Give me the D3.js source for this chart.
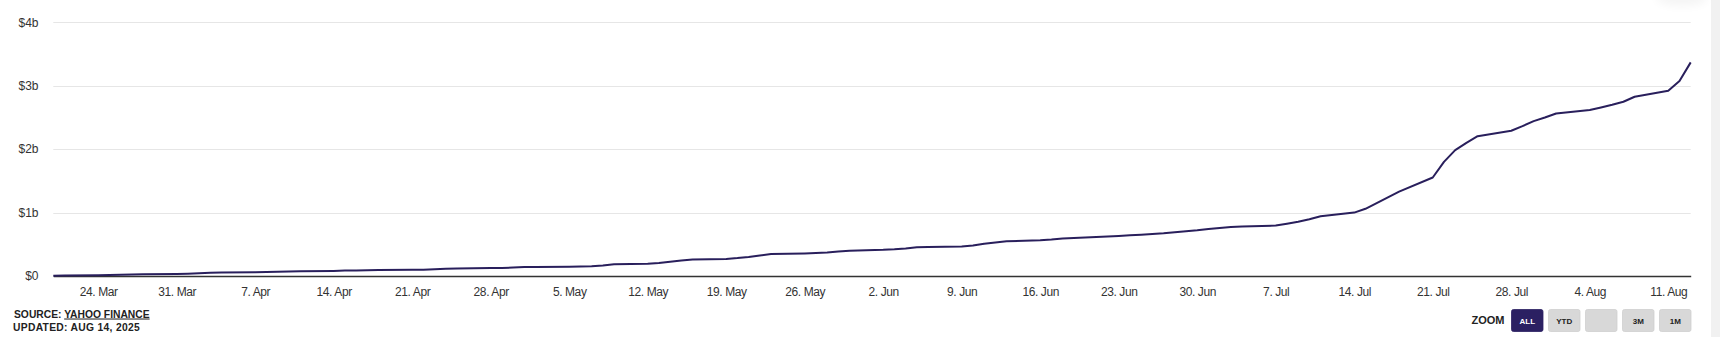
<!DOCTYPE html>
<html>
<head>
<meta charset="utf-8">
<script src="https://cdn.jsdelivr.net/npm/d3@7/dist/d3.min.js"></script>
<style>
  html, body { margin: 0; padding: 0; background: #fff; }
  svg { display: block; font-family: "Liberation Sans", Arial, sans-serif; }
</style>
</head>
<body>
<svg id="chart" width="1720" height="337"></svg>
<script>
// Trading days (weekdays) and cumulative value in billions of dollars
const dates = [
  "2025-03-20","2025-03-21","2025-03-24","2025-03-25","2025-03-26","2025-03-27","2025-03-28","2025-03-31",
  "2025-04-01","2025-04-02","2025-04-03","2025-04-04","2025-04-07","2025-04-08","2025-04-09","2025-04-10","2025-04-11",
  "2025-04-14","2025-04-15","2025-04-16","2025-04-17","2025-04-18","2025-04-21","2025-04-22","2025-04-23","2025-04-24","2025-04-25",
  "2025-04-28","2025-04-29","2025-04-30",
  "2025-05-01","2025-05-02","2025-05-05","2025-05-06","2025-05-07","2025-05-08","2025-05-09","2025-05-12","2025-05-13","2025-05-14",
  "2025-05-15","2025-05-16","2025-05-19","2025-05-20","2025-05-21","2025-05-22","2025-05-23","2025-05-26","2025-05-27","2025-05-28",
  "2025-05-29","2025-05-30",
  "2025-06-02","2025-06-03","2025-06-04","2025-06-05","2025-06-06","2025-06-09","2025-06-10","2025-06-11","2025-06-12","2025-06-13",
  "2025-06-16","2025-06-17","2025-06-18","2025-06-19","2025-06-20","2025-06-23","2025-06-24","2025-06-25","2025-06-26","2025-06-27",
  "2025-06-30",
  "2025-07-01","2025-07-02","2025-07-03","2025-07-04","2025-07-07","2025-07-08","2025-07-09","2025-07-10","2025-07-11","2025-07-14",
  "2025-07-15","2025-07-16","2025-07-17","2025-07-18","2025-07-21","2025-07-22","2025-07-23","2025-07-24","2025-07-25","2025-07-28",
  "2025-07-29","2025-07-30","2025-07-31",
  "2025-08-01","2025-08-04","2025-08-05","2025-08-06","2025-08-07","2025-08-08","2025-08-11","2025-08-12","2025-08-13"
];
const values = [
  0.005,0.007,0.012,0.016,0.020,0.024,0.027,0.032,
  0.036,0.042,0.050,0.054,0.058,0.062,0.068,0.072,0.075,
  0.080,0.085,0.088,0.092,0.094,0.097,0.100,0.108,0.115,0.120,
  0.125,0.128,0.133,
  0.140,0.142,0.145,0.148,0.152,0.165,0.185,0.195,0.205,0.225,
  0.245,0.260,0.268,0.282,0.300,0.325,0.345,0.355,0.362,0.370,
  0.385,0.400,
  0.412,0.420,0.432,0.452,0.458,0.464,0.480,0.510,0.530,0.548,
  0.564,0.575,0.590,0.600,0.607,0.632,0.641,0.652,0.663,0.674,
  0.720,
  0.740,0.758,0.774,0.780,0.795,0.825,0.855,0.895,0.942,1.000,
  1.060,1.150,1.240,1.330,1.553,1.800,1.984,2.100,2.205,2.290,
  2.363,2.442,2.500,
  2.563,2.616,2.658,2.700,2.747,2.826,2.920,3.073,3.368
];
const yTicks = [0, 1, 2, 3, 4];
const yTickLabels = ["$0", "$1b", "$2b", "$3b", "$4b"];
const sourceName = "YAHOO FINANCE";
const updatedText = "UPDATED: AUG 14, 2025";
const zoomButtons = ["ALL", "YTD", "", "3M", "1M"];

const parse = d3.utcParse("%Y-%m-%d");
const data = dates.map((d, i) => ({ date: parse(d), value: values[i] }));

const svg = d3.select("#chart");
const plotLeft = 53.3, plotRight = 1690.7, plotTop = 22.3, plotBottom = 276;

const x = d3.scaleUtc()
  .domain(d3.extent(data, d => d.date))
  .range([plotLeft, plotRight]);
const y = d3.scaleLinear()
  .domain([0, 4])
  .range([plotBottom, plotTop]);

// Scrollbar strip on the right edge
svg.append("rect")
  .attr("x", 1711).attr("y", 0).attr("width", 9).attr("height", 337)
  .attr("fill", "#f1f1f1");

// Faint shadow at the top right corner
const defs = svg.append("defs");
defs.append("filter").attr("id", "soft")
  .attr("x", "-50%").attr("y", "-50%").attr("width", "200%").attr("height", "200%")
  .append("feGaussianBlur").attr("stdDeviation", 5);
svg.append("ellipse")
  .attr("cx", 1682).attr("cy", -2).attr("rx", 26).attr("ry", 8)
  .attr("fill", "#000").attr("opacity", 0.04)
  .attr("filter", "url(#soft)");

// Horizontal grid lines
svg.append("g")
  .selectAll("line")
  .data(yTicks.filter(t => t > 0))
  .join("line")
  .attr("x1", plotLeft).attr("x2", plotRight)
  .attr("y1", d => Math.round(y(d)) + 0.5).attr("y2", d => Math.round(y(d)) + 0.5)
  .attr("stroke", "#e6e6e6").attr("stroke-width", 1);

// Y axis labels
const yAxis = d3.axisLeft(y)
  .tickValues(yTicks)
  .tickFormat((d, i) => yTickLabels[i])
  .tickSize(0)
  .tickPadding(0);
const gy = svg.append("g")
  .attr("transform", "translate(38.5,0)")
  .call(yAxis);
gy.select(".domain").remove();
gy.selectAll("text")
  .attr("font-family", "'Liberation Sans', Arial, sans-serif")
  .attr("font-size", 12)
  .attr("fill", "#333");

// X axis
const xAxis = d3.axisBottom(x)
  .ticks(d3.utcMonday.every(1))
  .tickFormat(d3.utcFormat("%-d. %b"))
  .tickSize(0)
  .tickPadding(11);
const gx = svg.append("g")
  .attr("transform", `translate(0,${plotBottom})`)
  .call(xAxis);
gx.select(".domain")
  .attr("stroke", "#333").attr("stroke-width", 1.3);
gx.selectAll("text")
  .attr("font-family", "'Liberation Sans', Arial, sans-serif")
  .attr("font-size", 12)
  .attr("letter-spacing", "-0.4")
  .attr("fill", "#333");

// Data line
const line = d3.line()
  .x(d => x(d.date))
  .y(d => y(d.value));
svg.append("path")
  .datum(data)
  .attr("d", line)
  .attr("fill", "none")
  .attr("stroke", "#291f5c")
  .attr("stroke-width", 2)
  .attr("stroke-linejoin", "round");

// Source and update notes
const src = svg.append("text")
  .attr("x", 14).attr("y", 317.5)
  .attr("font-size", 10.3).attr("font-weight", "bold")
  .attr("fill", "#222");
src.append("tspan").text("SOURCE: ");
src.append("tspan").attr("text-decoration", "underline").text(sourceName);
svg.append("text")
  .attr("x", 13).attr("y", 330.5)
  .attr("font-size", 10.3).attr("font-weight", "bold")
  .attr("letter-spacing", "0.3").attr("fill", "#222")
  .text(updatedText);

// Zoom selector
svg.append("text")
  .attr("x", 1471.5).attr("y", 324)
  .attr("font-size", 11).attr("font-weight", "bold").attr("fill", "#222")
  .text("ZOOM");
const btn = svg.append("g").selectAll("g")
  .data(zoomButtons)
  .join("g")
  .attr("transform", (d, i) => `translate(${1511.5 + i * 37},309.5)`);
btn.append("rect")
  .attr("width", 31.5).attr("height", 22).attr("rx", 2)
  .attr("fill", (d, i) => i === 0 ? "#2b2062" : "#d8d8d8")
  .attr("stroke", (d, i) => i === 0 ? "#2b2062" : "#cfcfcf")
  .attr("stroke-width", 0.8);
btn.append("text")
  .attr("x", 15.75).attr("y", 14.5)
  .attr("text-anchor", "middle")
  .attr("font-size", 8).attr("font-weight", "bold")
  .attr("fill", (d, i) => i === 0 ? "#fff" : "#222")
  .text(d => d);
</script>
</body>
</html>
